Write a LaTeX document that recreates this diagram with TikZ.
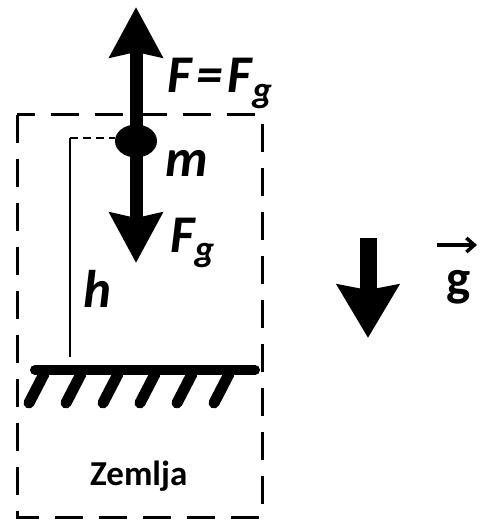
\documentclass[tikz,border=0pt]{standalone}
\usepackage{fontspec}
\setmainfont{Carlito}
\usetikzlibrary{arrows.meta,shapes.geometric}
\begin{document}
\begin{tikzpicture}[x=1pt,y=-1pt,
  lab/.style={font=\fontsize{53}{53}\selectfont\bfseries\itshape, inner sep=0pt, anchor=base west},
  force/.style={line width=13pt, -{Stealth[length=50pt,width=52pt,inset=5pt]}},
  gforce/.style={line width=17pt, -{Stealth[length=53pt,width=61pt,inset=5pt]}},
  boxline/.style={line width=3pt, dash pattern=on 28pt off 16pt},
  hline/.style={line width=1.5pt},
  hdash/.style={line width=1.5pt, dash pattern=on 8pt off 5pt},
  ground/.style={line width=10pt, line cap=round},
  hatch/.style={line width=11pt, line cap=round}]
\useasboundingbox (0,0) rectangle (479,521);
\fill[white] (0,0) rectangle (479,521);
% dashed box
\draw[boxline] (17,115) rectangle (262,517);
% h line
\coordinate (htop) at (70,138);
\coordinate (hbot) at (70,357);
\node[ellipse, fill=black, minimum width=42pt, minimum height=33pt, inner sep=0pt] (m) at (136,141) {};
\draw[hline] (hbot) -- (htop);
\draw[hdash] (htop) -- (m.west |- htop);
% forces
\coordinate (uptip) at (136,7);
\coordinate (dntip) at (136,263);
\draw[force] (m.center) -- (uptip);
\draw[force] (m.center) -- (dntip);
% ground
\coordinate (g1) at (35,370);
\coordinate (g2) at (255,370);
\draw[ground] (g1) -- (g2);
\foreach \i in {0,...,5}{
  \draw[hatch] ({44+37*\i},374) -- ({29+37*\i},403);
}
% labels
\node[lab] (F) at (167,93) {F\kern5pt=\kern5pt F\textsubscript{g}};
\node[lab] (Fg) at (170,252) {F\textsubscript{g}};
\node[lab] (ml) at (165,177) {m};
\node[lab] (hl) at (83,307) {h};
\node[font=\fontsize{35}{35}\selectfont\bfseries, inner sep=0pt, anchor=base west] (Z) at (90,485) {Zemlja};
% g vector
\coordinate (gtop) at (368,238);
\coordinate (gtip) at (368,338);
\draw[gforce] (gtop) -- (gtip);
\node[font=\fontsize{51}{51}\selectfont\bfseries, inner sep=0pt, anchor=base west] (gv) at (446,295) {g};
\coordinate (va) at (437,245);
\coordinate (vb) at (477,245);
\draw[line width=3.5pt, -{Straight Barb[length=8pt,width=14pt]}] (va) -- (vb);
\end{tikzpicture}
\end{document}
